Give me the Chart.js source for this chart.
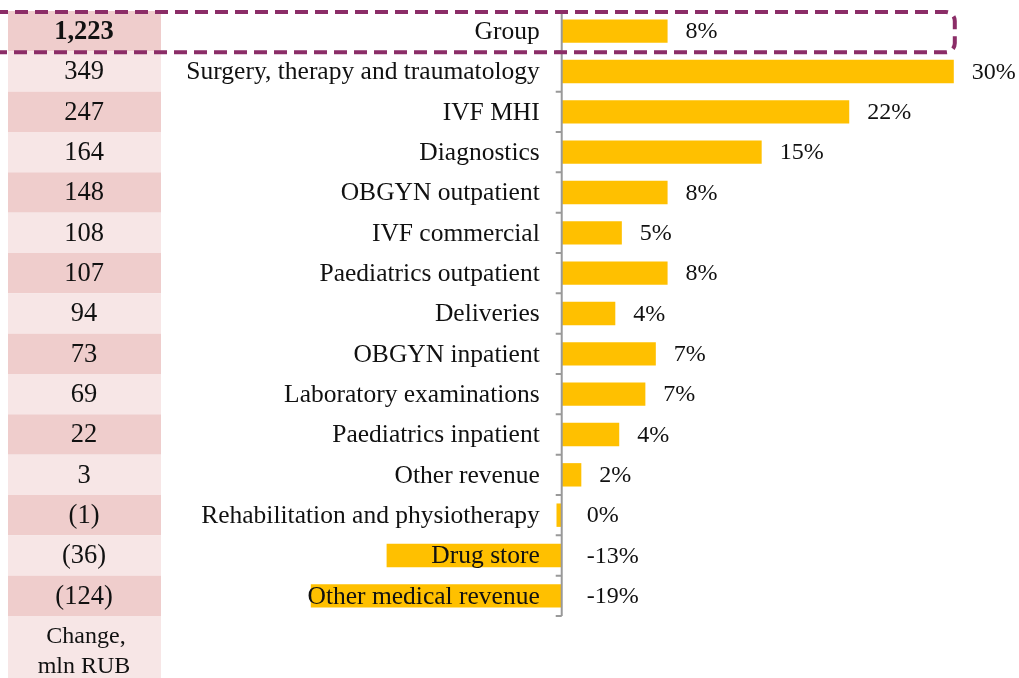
<!DOCTYPE html>
<html>
<head>
<meta charset="utf-8">
<script src="https://cdn.jsdelivr.net/npm/chart.js@4/dist/chart.umd.min.js"></script>
<style>
  body { margin: 0; background: #fff; }
  #wrap { width: 1019px; height: 678px; }
</style>
</head>
<body>
<div id="wrap"><canvas id="mycanvas" width="1019" height="678"></canvas></div>
<script>
// data
var categories = ['Group', 'Surgery, therapy and traumatology', 'IVF MHI', 'Diagnostics',
    'OBGYN outpatient', 'IVF commercial', 'Paediatrics outpatient', 'Deliveries',
    'OBGYN inpatient', 'Laboratory examinations', 'Paediatrics inpatient', 'Other revenue',
    'Rehabilitation and physiotherapy', 'Drug store', 'Other medical revenue'];
var changeMln = [1223, 349, 247, 164, 148, 108, 107, 94, 73, 69, 22, 3, -1, -36, -124];
var growth = [8.1, 30, 22, 15.3, 8.1, 4.6, 8.1, 4.1, 7.2, 6.4, 4.4, 1.5, -0.4, -13.4, -19.2];
var growthLabels = ['8%', '30%', '22%', '15%', '8%', '5%', '8%', '4%', '7%', '7%', '4%', '2%', '0%', '-13%', '-19%'];

var FONT = '"Liberation Serif", "Times New Roman", serif';

function fmtChange(v) {
    var s = Math.abs(v).toString().replace(/\B(?=(\d{3})+(?!\d))/g, ',');
    return v < 0 ? '(' + s + ')' : s;
}

// left table + axis + labels + highlight box
var decor = {
    id: 'decor',
    beforeDatasetsDraw: function (chart) {
        var ctx = chart.ctx, y = chart.scales.y;
        var half = (y.getPixelForValue(1) - y.getPixelForValue(0)) / 2;
        ctx.save();
        for (var i = 0; i < categories.length; i++) {
            var c = y.getPixelForValue(i);
            ctx.fillStyle = i % 2 === 0 ? '#efcdcc' : '#f7e6e6';
            ctx.fillRect(8, c - half, 153, half * 2);
        }
        var last = y.getPixelForValue(categories.length - 1) + half;
        ctx.fillStyle = '#f7e6e6';
        ctx.fillRect(8, last, 153, chart.height - last);

        ctx.fillStyle = '#111';
        ctx.textAlign = 'center';
        ctx.textBaseline = 'middle';
        for (var i = 0; i < changeMln.length; i++) {
            ctx.font = (i === 0 ? 'bold ' : '') + '26.5px ' + FONT;
            ctx.fillText(fmtChange(changeMln[i]), 84, y.getPixelForValue(i) + 1);
        }
        ctx.font = '24px ' + FONT;
        ctx.fillText('Change,', 86, last + 21);
        ctx.fillText('mln RUB', 84, last + 51);
        ctx.restore();
    },
    afterDatasetsDraw: function (chart) {
        var ctx = chart.ctx, y = chart.scales.y, x = chart.scales.x;
        var zero = x.getPixelForValue(0);
        var half = (y.getPixelForValue(1) - y.getPixelForValue(0)) / 2;
        var top = chart.chartArea.top, bottom = chart.chartArea.bottom;
        ctx.save();
        // axis
        ctx.strokeStyle = '#999';
        ctx.lineWidth = 2;
        ctx.beginPath();
        ctx.moveTo(zero, top);
        ctx.lineTo(zero, bottom);
        for (var i = 0; i <= categories.length; i++) {
            var t = y.getPixelForValue(i) - half;
            ctx.moveTo(zero - 6, t);
            ctx.lineTo(zero, t);
        }
        ctx.stroke();

        // category names
        ctx.font = '25.5px ' + FONT;
        ctx.fillStyle = '#111';
        ctx.textBaseline = 'middle';
        ctx.textAlign = 'right';
        for (var i = 0; i < categories.length; i++) {
            ctx.fillText(categories[i], zero - 22, y.getPixelForValue(i) + 1);
        }

        // value labels
        ctx.font = '24px ' + FONT;
        ctx.textAlign = 'left';
        for (var i = 0; i < growth.length; i++) {
            var lx = growth[i] > 0 ? x.getPixelForValue(growth[i]) + 18 : zero + 25;
            ctx.fillText(growthLabels[i], lx, y.getPixelForValue(i) + 1);
        }

        // dashed box round the Group row
        var bTop = y.getPixelForValue(0) - half + 1;
        var bBot = y.getPixelForValue(0) + half + 1;
        var bRight = x.getPixelForValue(30) + 1;
        var r = 9;
        ctx.strokeStyle = '#8b2d67';
        ctx.lineWidth = 4;
        ctx.setLineDash([13, 7]);
        ctx.beginPath();
        ctx.moveTo(-5, bTop);
        ctx.lineTo(bRight - r, bTop);
        ctx.arcTo(bRight, bTop, bRight, bTop + r, r);
        ctx.lineTo(bRight, bBot - r);
        ctx.arcTo(bRight, bBot, bRight - r, bBot, r);
        ctx.lineTo(-5, bBot);
        ctx.stroke();
        ctx.restore();
    }
};

var ctx = document.getElementById('mycanvas');
var barGraph = new Chart(ctx, {
    type: 'bar',
    data: {
        labels: categories,
        datasets: [{
            data: growth,
            backgroundColor: '#ffc000',
            borderWidth: 0,
            barPercentage: 0.58,
            categoryPercentage: 1
        }]
    },
    options: {
        indexAxis: 'y',
        responsive: false,
        animation: false,
        layout: { padding: { left: 235, right: 26, top: 11, bottom: 62 } },
        scales: {
            x: { display: false, min: -25, max: 33 },
            y: { display: false }
        },
        plugins: { legend: { display: false }, tooltip: { enabled: false } }
    },
    plugins: [decor]
});
</script>
</body>
</html>
